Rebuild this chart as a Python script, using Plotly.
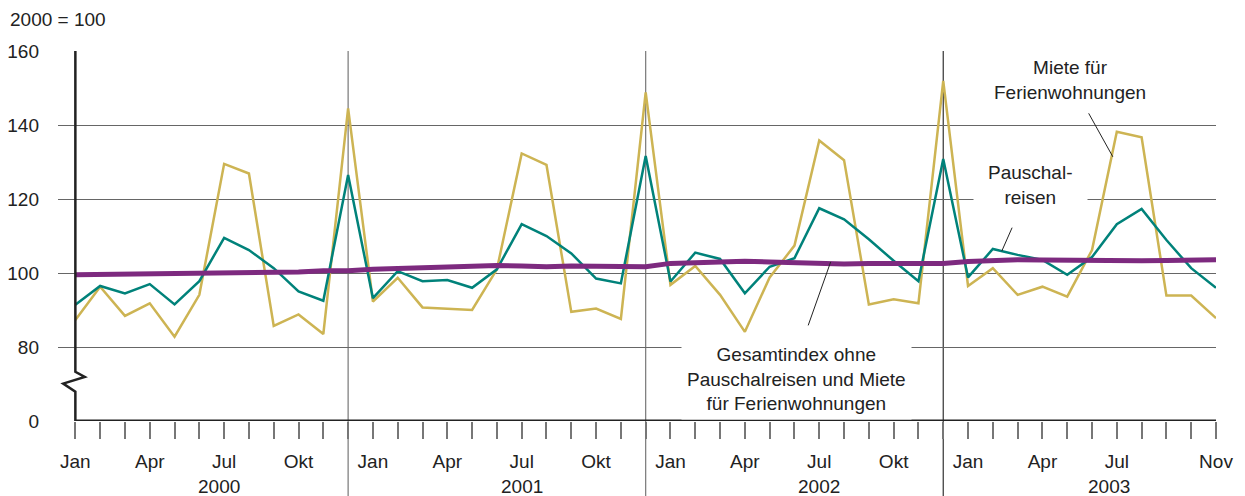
import plotly.graph_objects as go

# ---- data (Jan 2000 .. Nov 2003, monthly, 2000 = 100) ----
months = list(range(47))
miete = [87.3, 96.3, 88.4, 91.8, 82.8, 94.1, 129.5, 126.9, 85.7, 88.8, 83.5, 144.5,
         92.3, 98.7, 90.7, 90.4, 90.0, 101.0, 132.3, 129.2, 89.5, 90.4, 87.6, 148.8,
         96.8, 101.9, 94.1, 84.1, 98.8, 107.4, 135.8, 130.5, 91.5, 92.9, 91.8, 151.9,
         96.5, 101.3, 94.1, 96.3, 93.6, 106.2, 138.2, 136.7, 93.9, 93.9, 87.8]
pausch = [91.4, 96.5, 94.5, 97.0, 91.5, 97.8, 109.5, 106.2, 101.3, 95.0, 92.5, 126.5,
          93.2, 100.5, 97.8, 98.1, 96.0, 101.0, 113.2, 110.0, 105.3, 98.5, 97.2, 131.6,
          97.7, 105.5, 103.8, 94.5, 101.7, 104.0, 117.5, 114.5, 109.1, 103.3, 97.8, 130.8,
          98.8, 106.5, 104.9, 103.5, 99.5, 104.3, 113.2, 117.3, 108.9, 101.3, 96.0]
gesamt = [99.5, 99.6, 99.6, 99.5, 99.6, 100.0, 100.0, 99.9, 100.3, 100.3, 100.6, 100.6,
          101.0, 101.2, 101.4, 101.6, 102.0, 102.0, 101.9, 101.7, 101.9, 101.9, 101.6, 101.7,
          102.6, 102.8, 103.0, 103.2, 103.0, 102.8, 102.6, 102.4, 102.6, 102.6, 102.4, 102.6,
          103.1, 103.5, 103.6, 103.5, 103.4, 103.4, 103.3, 103.3, 103.4, 103.5, 103.6]

month_labels = (["Jan", "", "", "Apr", "", "", "Jul", "", "", "Okt", "", ""] * 3
                + ["Jan", "", "", "Apr", "", "", "Jul", "", "", "", "Nov"])
years = ["2000", "2001", "2002", "2003"]
year_pos = [5.8, 18.0, 30.0, 41.7]
year_sep = [11, 23, 35]
y_ticks = [60, 80, 100, 120, 140, 160]
y_ticktext = ["0", "80", "100", "120", "140", "160"]

FONT = "Liberation Sans, Arial, sans-serif"
TXT = "#222222"

fig = go.Figure()
fig.add_trace(go.Scatter(x=months, y=miete, mode="lines",
                         line=dict(color="#CDB453", width=2.5), name="Miete für Ferienwohnungen"))
fig.add_trace(go.Scatter(x=months, y=pausch, mode="lines",
                         line=dict(color="#00827A", width=2.5), name="Pauschalreisen"))
fig.add_trace(go.Scatter(x=months, y=gesamt, mode="lines",
                         line=dict(color="#7D2A7F", width=5), name="Gesamtindex"))

shapes = []
# year separators
for i, m in enumerate(year_sep):
    shapes.append(dict(type="line", xref="x", yref="paper", x0=m, x1=m, y0=-0.205, y1=1,
                       line=dict(color="#777777" if i < 2 else "#333333", width=1.2), layer="below"))
# bottom axis line
shapes.append(dict(type="line", xref="x", yref="y", x0=0, x1=46, y0=60, y1=60,
                   line=dict(color="#222222", width=3)))
# left axis with break
shapes.append(dict(type="path", xref="x", yref="y",
                   path="M 0 160 L 0 73.3 L 0.38 71.9 L -0.49 70.1 L 0 67.9 L 0 60",
                   line=dict(color="#222222", width=2.5)))

annotations = []
for yr, p in zip(years, year_pos):
    annotations.append(dict(text=yr, x=p, xref="x", y=-0.178, yref="paper",
                            showarrow=False, font=dict(size=19, color=TXT, family=FONT),
                            xanchor="center", yanchor="middle"))
annotations.append(dict(text="2000 = 100", x=-0.0432, xref="paper", y=1.084, yref="paper",
                        showarrow=False, font=dict(size=19, color=TXT, family=FONT),
                        xanchor="left", yanchor="middle"))
annotations.append(dict(text="Gesamtindex ohne<br>Pauschalreisen und Miete<br>für Ferienwohnungen",
                        x=29.1, xref="x", y=71.35, yref="y", showarrow=False,
                        font=dict(size=19, color=TXT, family=FONT),
                        bgcolor="white", borderpad=5, xanchor="center", yanchor="middle"))
annotations.append(dict(text="Pauschal-<br>reisen", x=38.5, xref="x", y=123.8, yref="y",
                        showarrow=False, font=dict(size=19, color=TXT, family=FONT),
                        bgcolor="white", borderpad=14, xanchor="center", yanchor="middle"))
annotations.append(dict(text="Miete für<br>Ferienwohnungen", x=40.1, xref="x", y=152.2, yref="y",
                        showarrow=False, font=dict(size=19, color=TXT, family=FONT),
                        xanchor="center", yanchor="middle"))
# leader lines
annotations.append(dict(text="", x=30.46, y=103.0, xref="x", yref="y", showarrow=True,
                        arrowhead=0, arrowwidth=1, arrowcolor="#222222", ax=-23, ay=65))
annotations.append(dict(text="", x=37.36, y=105.9, xref="x", yref="y", showarrow=True,
                        arrowhead=0, arrowwidth=1, arrowcolor="#222222", ax=11, ay=-25))
annotations.append(dict(text="", x=41.84, y=131.4, xref="x", yref="y", showarrow=True,
                        arrowhead=0, arrowwidth=1, arrowcolor="#222222", ax=-25, ay=-45))

fig.update_layout(
    width=1245, height=496,
    margin=dict(l=58, r=29, t=51, b=75, autoexpand=False),
    paper_bgcolor="white", plot_bgcolor="white",
    showlegend=False,
    font=dict(family=FONT, size=19, color=TXT),
    xaxis=dict(range=[-0.7, 46], tickmode="array", tickvals=months, ticktext=month_labels,
               ticks="outside", ticklen=17, tickcolor="#777777", tickwidth=1.5,
               showgrid=False, zeroline=False, showline=False,
               tickfont=dict(size=19, color=TXT, family=FONT), ticklabelstandoff=6),
    yaxis=dict(range=[60, 160], tickmode="array", tickvals=y_ticks, ticktext=y_ticktext,
               showgrid=True, gridcolor="#666666", gridwidth=1, zeroline=False, showline=False,
               ticks="", tickfont=dict(size=19, color=TXT, family=FONT), ticklabelstandoff=18),
    shapes=shapes,
    annotations=annotations,
)

fig.write_html("out.html", config={"displayModeBar": False},
               post_script="document.body.style.margin='0';document.body.style.overflow='hidden';")
